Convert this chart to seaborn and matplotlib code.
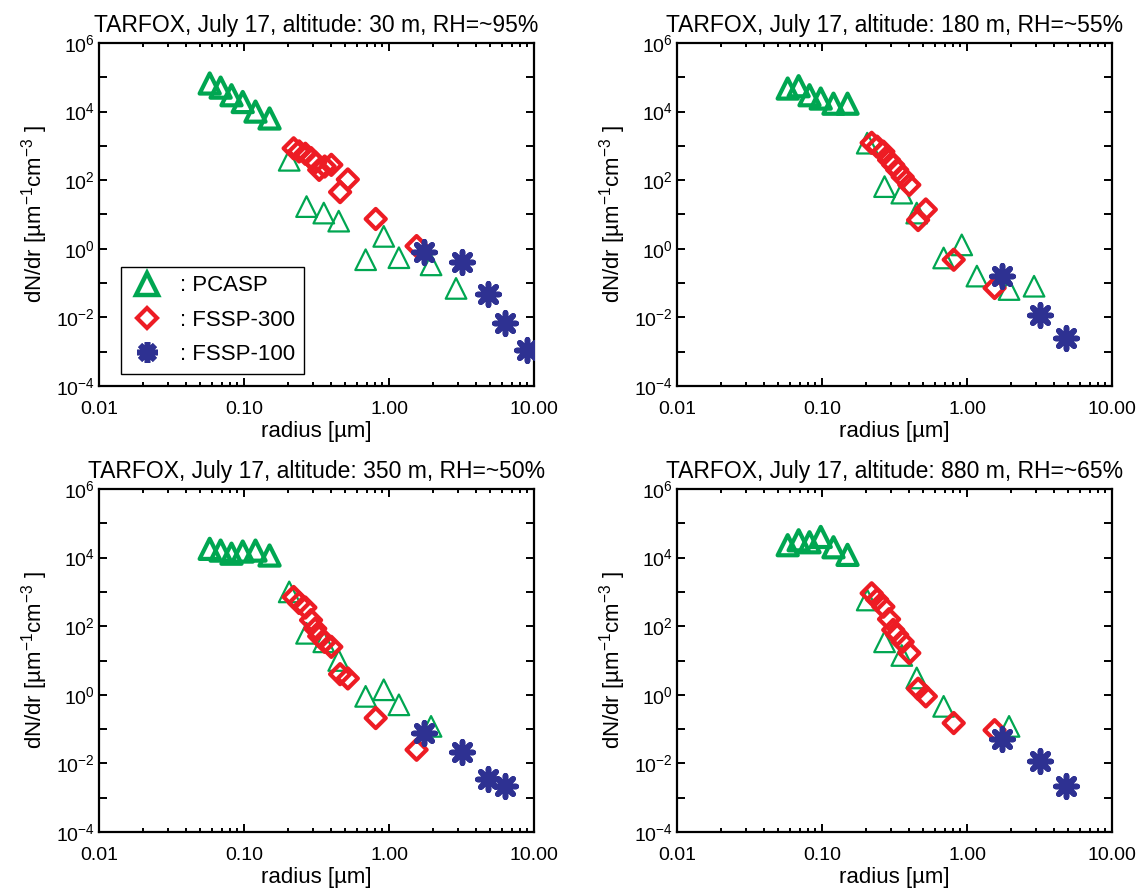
import numpy as np
import pandas as pd
import matplotlib
matplotlib.use("Agg")
import matplotlib.pyplot as plt
import matplotlib.ticker as mticker
from matplotlib.lines import Line2D
import seaborn as sns

# size bins [um]
pcasp_r = [0.058, 0.069, 0.082, 0.098, 0.12, 0.15, 0.205, 0.27, 0.355, 0.45, 0.69, 0.92, 1.17, 1.95, 2.9]
fssp300_r = [0.22, 0.24, 0.265, 0.29, 0.31, 0.33, 0.36, 0.40, 0.46, 0.52, 0.81, 1.55]
fssp100_r = [1.75, 3.2, 4.8, 6.3, 9.0]

# dN/dr per altitude
pcasp_30 = [6.6e4, 5.0e4, 3.0e4, 1.9e4, 1.0e4, 6.3e3, 380, 17, 11, 6.4, 0.48, 2.3, 0.55, 0.34, 0.07]
pcasp_180 = [4.7e4, 5.5e4, 3.0e4, 2.4e4, 1.7e4, 1.7e4, 1200, 65, 42, 11, 0.54, 1.3, 0.16, 0.065, 0.081]
pcasp_350 = [1.8e4, 1.6e4, 1.3e4, 1.5e4, 1.6e4, 1.15e4, 1000, 62, 35, 10, 0.9, 1.4, 0.51, 0.12, np.nan]
pcasp_880 = [2.3e4, 3.2e4, 2.8e4, 4.0e4, 2.0e4, 1.2e4, 580, 35, 14, 3.1, 0.46, np.nan, np.nan, 0.12, np.nan]

fssp300_30 = [850, 690, 590, 440, 330, 200, 250, 280, 45, 105, 7.4, 1.2]
fssp300_180 = [1230, 950, 680, 390, 280, 200, 125, 73, 6.9, 14, 0.48, 0.072]
fssp300_350 = [710, 475, 350, 150, 85, 51, 35, 25, 4.0, 3.0, 0.21, 0.025]
fssp300_880 = [910, 600, 370, 160, 78, 56, 35, 16.5, 1.5, 0.9, 0.15, 0.093]

fssp100_30 = [0.81, 0.40, 0.048, 0.0069, 0.0011]
fssp100_180 = [0.16, 0.012, 0.0025, np.nan, np.nan]
fssp100_350 = [0.079, 0.021, 0.0034, 0.0022, np.nan]
fssp100_880 = [0.05, 0.0117, 0.0022, np.nan, np.nan]

altitudes = ["30", "180", "350", "880"]
rh = ["95", "55", "50", "65"]

green = "#00A651"
red = "#ED1C24"
navy = "#2E3192"

sns.set_style("ticks")
plt.rcParams["font.family"] = ["Liberation Sans", "DejaVu Sans"]
plt.rcParams["mathtext.fontset"] = "custom"
plt.rcParams["mathtext.rm"] = "Liberation Sans"
plt.rcParams["mathtext.it"] = "Liberation Sans:italic"
plt.rcParams["mathtext.bf"] = "Liberation Sans:bold"
for k in ["text.color", "axes.labelcolor", "xtick.color", "ytick.color", "axes.edgecolor"]:
    plt.rcParams[k] = "black"

panels = [
    (pcasp_30, fssp300_30, fssp100_30),
    (pcasp_180, fssp300_180, fssp100_180),
    (pcasp_350, fssp300_350, fssp100_350),
    (pcasp_880, fssp300_880, fssp100_880),
]

fig = plt.figure(figsize=(11.38, 8.9), dpi=100)
W, H = 1138.0, 890.0
boxes = [(99, 43), (677, 43), (99, 489), (677, 489)]
aw, ah = 435, 343

def ylab(v, pos):
    e = int(round(np.log10(v)))
    if e % 2:
        return ""
    return r"$10^{%d}$" % e

for i, (pc, f3, f1) in enumerate(panels):
    x0, y0 = boxes[i]
    ax = fig.add_axes([x0 / W, 1 - (y0 + ah) / H, aw / W, ah / H])

    df_pc = pd.DataFrame({"r": pcasp_r, "n": pc}).dropna()
    df_3 = pd.DataFrame({"r": fssp300_r, "n": f3}).dropna()
    df_1 = pd.DataFrame({"r": fssp100_r, "n": f1}).dropna()

    # first PCASP channels are drawn heavier in the original
    sns.scatterplot(data=df_pc.iloc[:6], x="r", y="n", ax=ax, marker="^", s=210,
                    color=green, facecolor="none", edgecolor=green, linewidth=3.0, zorder=3)
    sns.scatterplot(data=df_pc.iloc[6:], x="r", y="n", ax=ax, marker="^", s=220,
                    color=green, facecolor="none", edgecolor=green, linewidth=1.6, zorder=3)
    sns.scatterplot(data=df_3, x="r", y="n", ax=ax, marker="D", s=105,
                    color=red, facecolor="none", edgecolor=red, linewidth=3.0, zorder=4)
    sns.scatterplot(data=df_1, x="r", y="n", ax=ax, marker=(8, 2, 0), s=240,
                    color=navy, linewidth=4.0, zorder=5)

    ax.set_xscale("log")
    ax.set_yscale("log")
    ax.set_xlim(0.01, 10)
    ax.set_ylim(1e-4, 1e6)
    ax.xaxis.set_major_locator(mticker.FixedLocator([0.01, 0.1, 1, 10]))
    ax.xaxis.set_major_formatter(mticker.FixedFormatter(["0.01", "0.10", "1.00", "10.00"]))
    ax.xaxis.set_minor_locator(mticker.LogLocator(base=10, subs=np.arange(2, 10), numticks=20))
    ax.yaxis.set_major_locator(mticker.FixedLocator([10.0 ** k for k in range(-4, 7)]))
    ax.yaxis.set_major_formatter(mticker.FuncFormatter(ylab))
    ax.yaxis.set_minor_locator(mticker.NullLocator())
    ax.tick_params(which="both", direction="in", top=True, right=True, labelsize=14, width=1.4)
    ax.tick_params(which="major", length=6)
    ax.tick_params(which="minor", length=3)
    ax.tick_params(axis="x", which="both", pad=11)
    ax.tick_params(axis="y", which="both", pad=3)
    for sp in ax.spines.values():
        sp.set_linewidth(1.6)
    ax.set_xlabel("radius [\u00b5m]", fontsize=16, labelpad=2)
    ax.set_ylabel("dN/dr [\u00b5m$^{-1}$cm$^{-3}$ ]", fontsize=16, labelpad=4)
    ax.set_title("TARFOX, July 17, altitude: %s m, RH=~%s%%" % (altitudes[i], rh[i]),
                 fontsize=16.5, pad=8)

    if i == 0:
        handles = [
            Line2D([], [], ls="none", marker="^", ms=16, mfc="none", mec=green, mew=3.2),
            Line2D([], [], ls="none", marker="D", ms=10.5, mfc="none", mec=red, mew=3.0),
            Line2D([], [], ls="none", marker=(8, 2, 0), ms=15, color=navy, mew=4.0),
        ]
        leg = ax.legend(handles, [": PCASP", ": FSSP-300", ": FSSP-100"],
                        loc="lower left", bbox_to_anchor=(0.05, 0.035), borderaxespad=0,
                        fontsize=16, frameon=True, fancybox=False, edgecolor="black",
                        framealpha=1, handlelength=1.6, handletextpad=0.66,
                        labelspacing=0.6, borderpad=0.4)
        leg.get_frame().set_linewidth(1.0)

fig.savefig("out.png", dpi=100)
